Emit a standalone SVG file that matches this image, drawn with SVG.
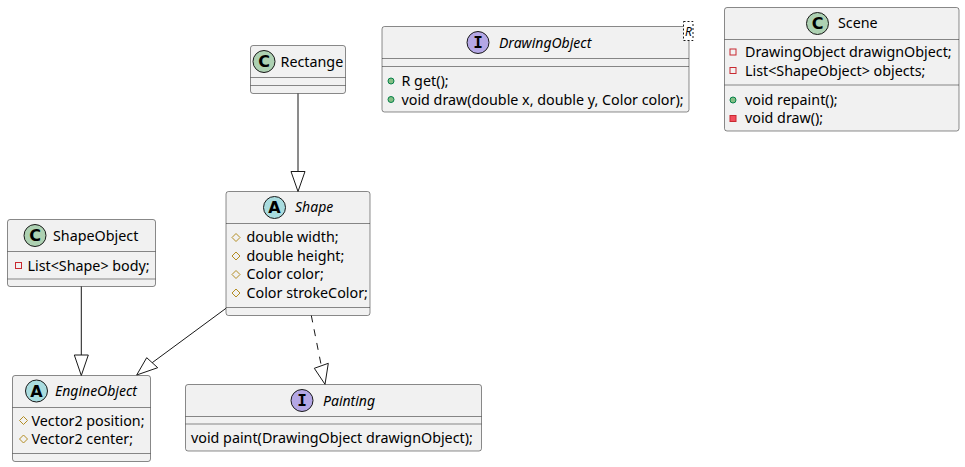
<svg xmlns="http://www.w3.org/2000/svg" width="965" height="467" viewBox="0 0 965 467">
<style>
.box{fill:#F1F1F1;stroke:#181818;stroke-width:0.5}
.sep{stroke:#181818;stroke-width:0.5}
.t{font-family:"Noto Sans",sans-serif;font-size:14.3px;fill:#000}
.i{font-style:italic;font-size:14px}
.cc{fill:#ADD1B2;stroke:#181818;stroke-width:1}
.ca{fill:#A9DCDF;stroke:#181818;stroke-width:1}
.ci{fill:#B4A7E5;stroke:#181818;stroke-width:1}
.L{font-family:"DejaVu Sans",sans-serif;font-weight:bold;font-size:16px;fill:#000;text-anchor:middle}
.LI{font-family:"DejaVu Sans Mono",monospace;font-weight:bold;font-size:16px;fill:#000;text-anchor:middle}
.prot{fill:none;stroke:#B38D22;stroke-width:1}
.privf{fill:none;stroke:#C82930;stroke-width:1}
.privm{fill:#F24D5C;stroke:#C82930;stroke-width:1}
.pub{fill:#84BE84;stroke:#038048;stroke-width:1}
.edge{fill:none;stroke:#181818;stroke-width:1}
.head{fill:none;stroke:#181818;stroke-width:1}
</style>
<rect width="965" height="467" fill="#FFFFFF"/>

<g id="Rectange">
<rect class="box" x="250.5" y="45.5" width="95" height="48" rx="2.5"/>
<line class="sep" x1="250.5" y1="77.5" x2="345.5" y2="77.5"/>
<line class="sep" x1="250.5" y1="85.5" x2="345.5" y2="85.5"/>
<circle class="cc" cx="264" cy="61.5" r="11"/>
<text class="L" x="264" y="67.3">C</text>
<text class="t" x="280.5" y="66.5">Rectange</text>
</g>

<g id="DrawingObject">
<rect class="box" x="382" y="26.5" width="307" height="85.5" rx="2.5"/>
<line class="sep" x1="382" y1="58.5" x2="689" y2="58.5"/>
<line class="sep" x1="382" y1="66.5" x2="689" y2="66.5"/>
<circle class="ci" cx="478" cy="42.5" r="11"/>
<text class="LI" x="478" y="48.3">I</text>
<text class="t i" x="499" y="47.5">DrawingObject</text>
<rect x="683.5" y="21.5" width="9.5" height="19" fill="#FFFFFF" stroke="#181818" stroke-width="1" stroke-dasharray="2,2"/>
<text x="685" y="35.5" style="font-family:'Noto Sans',sans-serif;font-size:12px;font-style:italic">R</text>
<circle class="pub" cx="391" cy="81" r="3"/>
<text class="t" x="401.5" y="86">R get();</text>
<circle class="pub" cx="391" cy="99.5" r="3"/>
<text class="t" x="401.5" y="104.5">void draw(double x, double y, Color color);</text>
</g>

<g id="Scene">
<rect class="box" x="724.5" y="7.5" width="234.5" height="123.5" rx="2.5"/>
<line class="sep" x1="724.5" y1="39.5" x2="959" y2="39.5"/>
<line class="sep" x1="724.5" y1="85" x2="959" y2="85"/>
<circle class="cc" cx="817.5" cy="23.5" r="11"/>
<text class="L" x="817.5" y="29.3">C</text>
<text class="t" x="838" y="28">Scene</text>
<rect class="privf" x="730" y="49" width="6" height="6"/>
<text class="t" x="745" y="57">DrawingObject drawignObject;</text>
<rect class="privf" x="730" y="67.5" width="6" height="6"/>
<text class="t" x="745" y="75.5">List&lt;ShapeObject&gt; objects;</text>
<circle class="pub" cx="733" cy="100" r="3"/>
<text class="t" x="745" y="104.5">void repaint();</text>
<rect class="privm" x="730" y="115.5" width="6" height="6"/>
<text class="t" x="745" y="123">void draw();</text>
</g>

<g id="ShapeObject">
<rect class="box" x="7.5" y="219.5" width="148" height="67" rx="2.5"/>
<line class="sep" x1="7.5" y1="251.5" x2="155.5" y2="251.5"/>
<line class="sep" x1="7.5" y1="279" x2="155.5" y2="279"/>
<circle class="cc" cx="35" cy="235.5" r="11"/>
<text class="L" x="35" y="241.3">C</text>
<text class="t" x="53" y="240.5">ShapeObject</text>
<rect class="privf" x="15.5" y="262.5" width="6" height="6"/>
<text class="t" x="27.5" y="270.5">List&lt;Shape&gt; body;</text>
</g>

<g id="Shape">
<rect class="box" x="226" y="191.5" width="144" height="124" rx="2.5"/>
<line class="sep" x1="226" y1="223.5" x2="370" y2="223.5"/>
<line class="sep" x1="226" y1="307.5" x2="370" y2="307.5"/>
<circle class="ca" cx="274.5" cy="207.5" r="11"/>
<text class="L" x="274.5" y="213.3">A</text>
<text class="t i" x="295" y="212">Shape</text>
<polygon class="prot" points="236,233.5 240,237.5 236,241.5 232,237.5"/>
<text class="t" x="246.5" y="242">double width;</text>
<polygon class="prot" points="236,252 240,256 236,260 232,256"/>
<text class="t" x="246.5" y="260.5">double height;</text>
<polygon class="prot" points="236,270.5 240,274.5 236,278.5 232,274.5"/>
<text class="t" x="246.5" y="279">Color color;</text>
<polygon class="prot" points="236,289 240,293 236,297 232,293"/>
<text class="t" x="246.5" y="297.5">Color strokeColor;</text>
</g>

<g id="EngineObject">
<rect class="box" x="12.5" y="375.5" width="138" height="86" rx="2.5"/>
<line class="sep" x1="12.5" y1="407.5" x2="150.5" y2="407.5"/>
<line class="sep" x1="12.5" y1="453.5" x2="150.5" y2="453.5"/>
<circle class="ca" cx="36.5" cy="391" r="11"/>
<text class="L" x="36.5" y="396.8">A</text>
<text class="t i" x="55" y="396">EngineObject</text>
<polygon class="prot" points="23.5,416.5 27.5,420.5 23.5,424.5 19.5,420.5"/>
<text class="t" x="31.5" y="425.5">Vector2 position;</text>
<polygon class="prot" points="23.5,435 27.5,439 23.5,443 19.5,439"/>
<text class="t" x="31.5" y="444">Vector2 center;</text>
</g>

<g id="Painting">
<rect class="box" x="185.5" y="384.5" width="296" height="66.5" rx="2.5"/>
<line class="sep" x1="185.5" y1="416.5" x2="481.5" y2="416.5"/>
<line class="sep" x1="185.5" y1="424" x2="481.5" y2="424"/>
<circle class="ci" cx="302" cy="400.5" r="11"/>
<text class="LI" x="302" y="406.3">I</text>
<text class="t i" x="323" y="405.5">Painting</text>
<text class="t" x="191" y="443">void paint(DrawingObject drawignObject);</text>
</g>

<g id="connectors">
<line class="edge" x1="298" y1="93.5" x2="298" y2="171.5"/>
<polygon class="head" points="298,191.5 291,171.5 305,171.5"/>
<line class="edge" x1="81.3" y1="286.5" x2="81.3" y2="355"/>
<polygon class="head" points="81.3,375.5 74.3,355 88.3,355"/>
<line class="edge" x1="226" y1="308.3" x2="152.2" y2="362.7"/>
<polygon class="head" points="136.7,375 146.7,357.7 157.7,367.7"/>
<line class="edge" x1="311.3" y1="315.5" x2="321.3" y2="365.8" stroke-dasharray="7,7"/>
<polygon class="head" points="325,384.3 314.3,368.3 328.3,363.3"/>
</g>
</svg>
